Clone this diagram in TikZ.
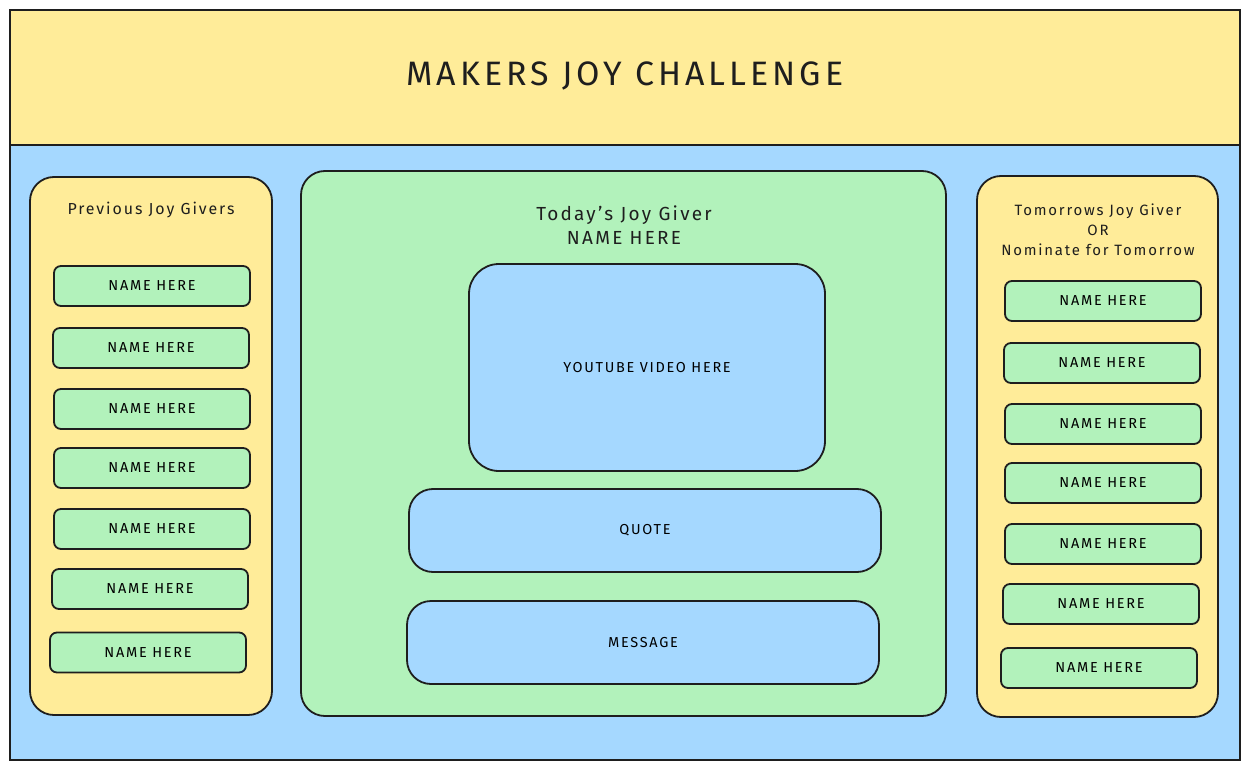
\documentclass[tikz,border=0pt]{standalone}
\usepackage{fontspec}
\setmainfont[LetterSpace=12]{Fira Sans}
\definecolor{joyyellow}{HTML}{FFEC99}
\definecolor{joyblue}{HTML}{A5D8FF}
\definecolor{joygreen}{HTML}{B2F2BB}
\definecolor{joyink}{HTML}{1E1E1E}
\tikzset{
  frame/.style={draw=joyink, line width=1.8bp, inner sep=0pt},
  panel/.style={frame, rounded corners=24bp},
  namebox/.style={frame, fill=joygreen, rounded corners=7bp,
    minimum width=196bp, minimum height=40bp, font=\fontsize{14.5}{16}\selectfont},
  mediabox/.style={frame, fill=joyblue, rounded corners=24bp, font=\fontsize{14.5}{16}\selectfont},
  caption/.style={font=\fontsize{16}{19}\selectfont, align=center, text=joyink}
}
\begin{document}
\begin{tikzpicture}[x=1bp, y=-1bp]
  \useasboundingbox (0,0) rectangle (1250,769);
  % page
  \node[frame, fill=joyblue, minimum width=1230bp, minimum height=615bp] (body) at (625,452.5) {};
  \node[frame, fill=joyyellow, minimum width=1230bp, minimum height=135bp] (header) at (625,77.5) {};
  \node[text=joyink, font=\fontsize{34}{38}\selectfont] (title) at (625,76) {MAKERS JOY CHALLENGE};
  % panels
  \node[panel, fill=joyyellow, minimum width=242bp, minimum height=538bp] (prev) at (151,446) {};
  \node[panel, fill=joygreen, minimum width=645bp, minimum height=545bp] (today) at (623.5,443.5) {};
  \node[panel, fill=joyyellow, minimum width=241bp, minimum height=541bp] (next) at (1097.5,446.5) {};
  \node[caption] (prevtitle) at (151,210) {Previous Joy Givers};
  \node[caption, font=\fontsize{19}{24}\selectfont] (todaytitle) at (624,225) {Today's Joy Giver\\NAME HERE};
  \node[caption, font=\fontsize{15}{20}\selectfont] (nexttitle) at (1098,230) {Tomorrows Joy Giver\\OR\\Nominate for Tomorrow};
  % name lists
  \foreach \i/\x/\y in {1/152/286, 2/151/348, 3/152/409, 4/152/468, 5/152/529, 6/150/589, 7/148/652.5}
    \node[namebox] (prev\i) at (\x,\y) {NAME HERE};
  \foreach \i/\x/\y in {1/1103/301, 2/1102/363, 3/1103/424, 4/1103/483, 5/1103/544, 6/1101/604, 7/1099/668}
    \node[namebox] (next\i) at (\x,\y) {NAME HERE};
  % media
  \node[mediabox, rounded corners=30bp, minimum width=356bp, minimum height=207bp] (video) at (647,367.5) {YOUTUBE VIDEO HERE};
  \node[mediabox, minimum width=472bp, minimum height=83bp] (quote) at (645,530.5) {QUOTE};
  \node[mediabox, minimum width=472bp, minimum height=83bp] (message) at (643,642.5) {MESSAGE};
\end{tikzpicture}
\end{document}
